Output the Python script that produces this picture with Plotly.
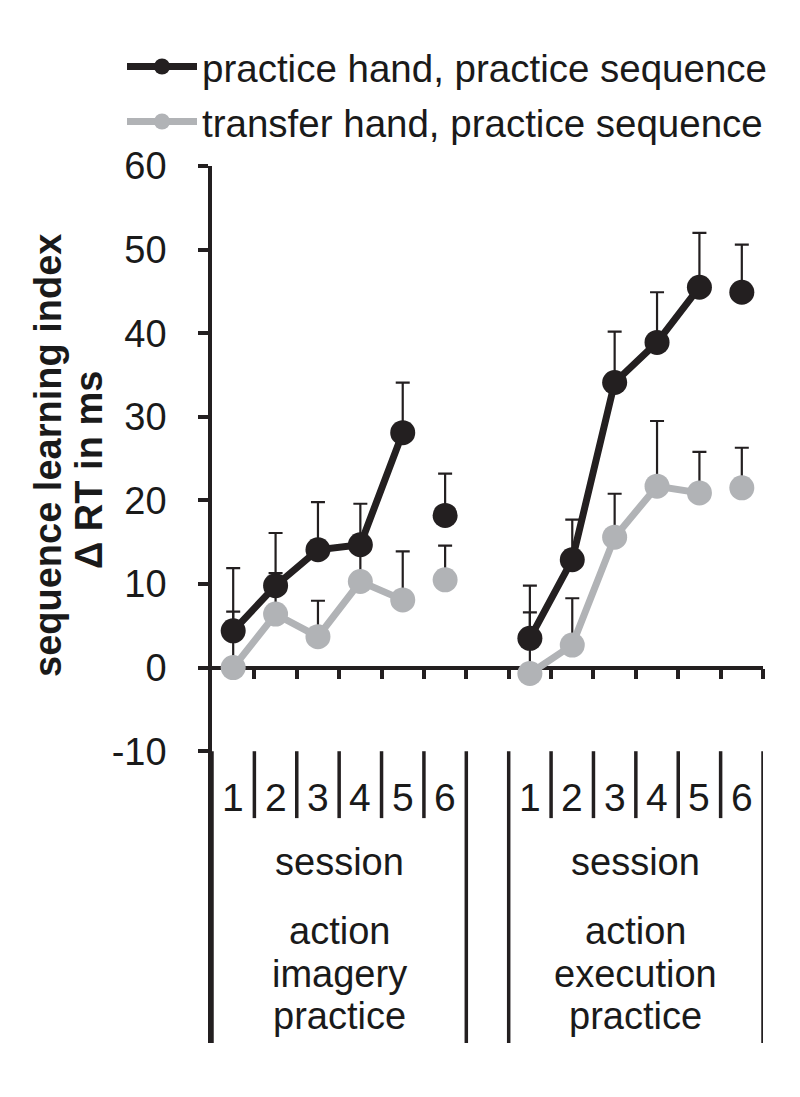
import plotly.graph_objects as go

# ---- data ----
sessions = [1, 2, 3, 4, 5, 6]
groups = ["action imagery practice", "action execution practice"]
group_lines = [["action", "imagery", "practice"], ["action", "execution", "practice"]]

imagery_practice = [4.4, 9.8, 14.1, 14.7, 28.1, 18.2]
imagery_practice_err = [7.5, 6.3, 5.7, 4.9, 6.0, 5.0]
imagery_transfer = [0.0, 6.4, 3.7, 10.3, 8.1, 10.5]
imagery_transfer_err = [6.7, 4.9, 4.3, 4.2, 5.8, 4.1]

execution_practice = [3.5, 12.9, 34.1, 38.9, 45.5, 44.9]
execution_practice_err = [6.3, 4.8, 6.1, 6.0, 6.5, 5.7]
execution_transfer = [-0.7, 2.7, 15.6, 21.7, 20.9, 21.5]
execution_transfer_err = [7.3, 5.6, 5.2, 7.8, 4.9, 4.8]

y_ticks = [-10, 0, 10, 20, 30, 40, 50, 60]
y_ticktext = ["-10", "0", "10", "20", "30", "40", "50", "60"]

# ---- styling ----
BLACK = "#231f20"
GRAY = "#b1b3b6"
TXT = "#1a1a1a"
FONT = "Arial, Liberation Sans, sans-serif"
AX_W = 3.5

group_offsets = [0, 7]          # x position of session 1 of each group
n_slots = 13
YMIN, YMAX = -44.9, 60

# page body has an 8px margin; figure sized so the page does not overflow
W, H = 792, 1089
OFF = 8
L, R, T, B = 204, 37, 158, 54
pw = W - L - R
ph = H - T - B

def px_to_paper_x(px):
    return (px - OFF - L) / pw
def py_to_paper_y(py):
    return (H - B - (py - OFF)) / ph
def px_to_cont_x(px):
    return (px - OFF) / W
def py_to_cont_y(py):
    return 1 - (py - OFF) / H

def positions(off):
    return [off + i for i in range(len(sessions))]

def line_arrays(series_by_group):
    xs, ys = [], []
    for off, vals in zip(group_offsets, series_by_group):
        px = positions(off)
        for i, (x, v) in enumerate(zip(px, vals)):
            if i == len(vals) - 1:
                xs.append(None); ys.append(None)
            xs.append(x); ys.append(v)
        xs.append(None); ys.append(None)
    return xs, ys

def point_arrays(series_by_group, err_by_group):
    xs, ys, es = [], [], []
    for off, vals, errs in zip(group_offsets, series_by_group, err_by_group):
        xs += positions(off); ys += list(vals); es += list(errs)
    return xs, ys, es

fig = go.Figure()

series = [
    ("transfer hand, practice sequence", [imagery_transfer, execution_transfer],
     [imagery_transfer_err, execution_transfer_err], GRAY, "legend2", 2),
    ("practice hand, practice sequence", [imagery_practice, execution_practice],
     [imagery_practice_err, execution_practice_err], BLACK, "legend", 1),
]

for name, vals, errs, color, leg, rank in series:
    ex, ey, ee = point_arrays(vals, errs)
    fig.add_trace(go.Scatter(
        x=ex, y=ey, mode="markers",
        marker=dict(size=1, color="rgba(0,0,0,0)"),
        error_y=dict(type="data", array=ee, arrayminus=[0] * len(ee), symmetric=False,
                     color=BLACK, thickness=2.2, width=7),
        showlegend=False, hoverinfo="skip"))
    lx, ly = line_arrays(vals)
    fig.add_trace(go.Scatter(
        x=lx, y=ly, mode="lines+markers", name=name, connectgaps=False,
        line=dict(color=color, width=7),
        marker=dict(size=25, color=color, line=dict(width=0)),
        legend=leg, legendrank=rank))

# ---- category label box below the plot ----
shapes = []
for off in group_offsets:
    for xb in (off - 0.5, off + 5.5):
        shapes.append(dict(type="line", xref="x", yref="y", x0=xb, x1=xb, y0=-10, y1=YMIN,
                           line=dict(color=BLACK, width=AX_W), layer="below"))
    for k in range(1, 6):
        xb = off - 0.5 + k
        shapes.append(dict(type="line", xref="x", yref="y", x0=xb, x1=xb, y0=-10, y1=-18.0,
                           line=dict(color=BLACK, width=AX_W), layer="below"))

annotations = []
for gi, off in enumerate(group_offsets):
    for s, x in zip(sessions, positions(off)):
        annotations.append(dict(x=x, y=-15.5, xref="x", yref="y", text=str(s), showarrow=False,
                                font=dict(size=39, color=TXT, family=FONT), yanchor="middle"))
    cx = off + 2.5
    annotations.append(dict(x=cx, y=-23.3, xref="x", yref="y", text="session", showarrow=False,
                            font=dict(size=38, color=TXT, family=FONT), yanchor="middle"))
    for li, txt in enumerate(group_lines[gi]):
        annotations.append(dict(x=cx, y=-31.5 - li * 5.1, xref="x", yref="y", text=txt,
                                showarrow=False, font=dict(size=38, color=TXT, family=FONT),
                                yanchor="middle"))

annotations.append(dict(x=px_to_paper_x(48), y=py_to_paper_y(456), xref="paper", yref="paper",
                        text="<b>sequence learning index</b>", textangle=-90, showarrow=False,
                        xanchor="center", yanchor="middle",
                        font=dict(size=38, color=TXT, family=FONT)))
annotations.append(dict(x=px_to_paper_x(89), y=py_to_paper_y(470), xref="paper", yref="paper",
                        text="<b>Δ RT in ms</b>", textangle=-90, showarrow=False,
                        xanchor="center", yanchor="middle",
                        font=dict(size=38, color=TXT, family=FONT)))

legend_common = dict(xref="container", yref="container", x=px_to_cont_x(122),
                     xanchor="left", yanchor="middle", itemwidth=70,
                     font=dict(size=38.5, color=TXT, family=FONT), bgcolor="rgba(0,0,0,0)")

fig.update_layout(
    width=W, height=H,
    margin=dict(l=L, r=R, t=T, b=B, autoexpand=False),
    paper_bgcolor="white", plot_bgcolor="white",
    font=dict(family=FONT, color=TXT, size=38),
    xaxis=dict(range=[-0.5, n_slots - 0.5], showgrid=False, zeroline=False,
               showline=True, linewidth=AX_W, linecolor=BLACK,
               ticks="outside", tickvals=[k + 0.5 for k in range(n_slots)],
               ticklen=10, tickwidth=AX_W, tickcolor=BLACK, showticklabels=False,
               anchor="free", position=(0 - YMIN) / (YMAX - YMIN), layer="below traces"),
    yaxis=dict(range=[YMIN, YMAX], showgrid=False, zeroline=False,
               showline=True, linewidth=AX_W, linecolor=BLACK,
               ticks="outside", tickvals=y_ticks, ticktext=y_ticktext,
               ticklen=10, tickwidth=AX_W, tickcolor=BLACK,
               tickfont=dict(size=38, color=TXT, family=FONT), ticklabelstandoff=24,
               layer="below traces"),
    legend=dict(legend_common, y=py_to_cont_y(67)),
    legend2=dict(legend_common, y=py_to_cont_y(122)),
    shapes=shapes, annotations=annotations,
)

fig.write_html("out.html")
